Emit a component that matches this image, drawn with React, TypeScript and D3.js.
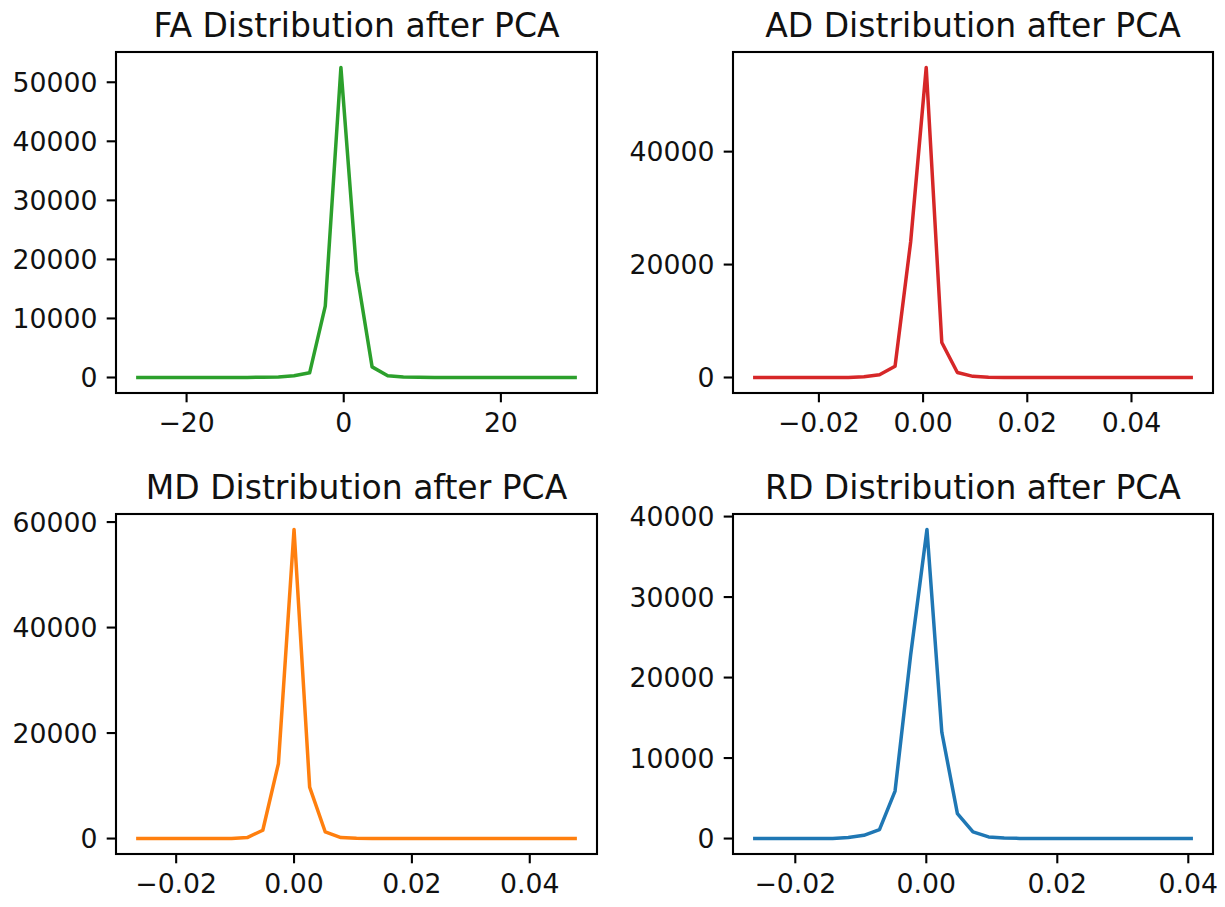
import React from "react";
import * as d3 from "d3";

// ---------- data ----------
const faX = [-26.2, -24.21, -22.23, -20.24, -18.25, -16.26, -14.28, -12.29, -10.3, -8.31, -6.33, -4.34, -2.35, -0.36, 1.63, 3.61, 5.6, 7.59, 9.58, 11.56, 13.55, 15.54, 17.53, 19.51, 21.5, 23.49, 25.48, 27.46, 29.45];
const faY = [0, 0, 0, 0, 0, 0, 10, 20, 40, 100, 300, 800, 12100, 52500, 18000, 1800, 300, 80, 30, 10, 5, 0, 0, 0, 0, 0, 0, 0, 0];

const adX = [-0.0323, -0.02931, -0.02632, -0.02333, -0.02034, -0.01735, -0.01435, -0.01136, -0.00837, -0.00538, -0.00239, 0.0006, 0.00359, 0.00658, 0.00957, 0.01256, 0.01556, 0.01855, 0.02154, 0.02453, 0.02752, 0.03051, 0.0335, 0.03649, 0.03948, 0.04248, 0.04547, 0.04846, 0.05146];
const adY = [0, 0, 0, 0, 0, 0, 10, 150, 500, 2000, 24000, 54900, 6200, 880, 200, 60, 20, 10, 0, 0, 0, 0, 0, 0, 0, 0, 0, 0, 0];

const mdX = [-0.0265, -0.02385, -0.0212, -0.01855, -0.0159, -0.01325, -0.0106, -0.00795, -0.0053, -0.00265, 0.0, 0.00265, 0.0053, 0.00795, 0.0106, 0.01325, 0.0159, 0.01855, 0.0212, 0.02385, 0.0265, 0.02915, 0.0318, 0.03445, 0.0371, 0.03975, 0.0424, 0.04505, 0.0477];
const mdY = [0, 0, 0, 0, 0, 0, 30, 190, 1570, 14200, 58600, 9750, 1250, 190, 40, 0, 0, 0, 0, 0, 0, 0, 0, 0, 0, 0, 0, 0, 0];

const rdX = [-0.02618, -0.0238, -0.02142, -0.01904, -0.01666, -0.01429, -0.01191, -0.00953, -0.00715, -0.00477, -0.00239, 0.0001, 0.00237, 0.00475, 0.00713, 0.00951, 0.01189, 0.01427, 0.01665, 0.01903, 0.0214, 0.02378, 0.02616, 0.02854, 0.03092, 0.0333, 0.03568, 0.03806, 0.04044];
const rdY = [0, 0, 0, 0, 5, 20, 120, 400, 1100, 5900, 22800, 38400, 13200, 3100, 820, 200, 60, 20, 0, 0, 0, 0, 0, 0, 0, 0, 0, 0, 0];

const faXTicks = [-20, 0, 20];
const faYTicks = [0, 10000, 20000, 30000, 40000, 50000];
const adXTicks = [-0.02, 0.0, 0.02, 0.04];
const adYTicks = [0, 20000, 40000];
const mdXTicks = [-0.02, 0.0, 0.02, 0.04];
const mdYTicks = [0, 20000, 40000, 60000];
const rdXTicks = [-0.02, 0.0, 0.02, 0.04];
const rdYTicks = [0, 10000, 20000, 30000, 40000];

const titles = ["FA Distribution after PCA", "AD Distribution after PCA", "MD Distribution after PCA", "RD Distribution after PCA"];
const colors = ["#2ca02c", "#d62728", "#ff7f0e", "#1f77b4"];

// ---------- layout ----------
const W = 1225;
const H = 907;
const FONT = "DejaVu Sans, sans-serif";
const TICK_FS = 26.7;
const TITLE_FS = 33;
const TICK_LEN = 9.3;
const PAD = 9.3;

type PanelProps = {
  x: number[];
  y: number[];
  xTicks: number[];
  yTicks: number[];
  title: string;
  color: string;
  left: number;
  top: number;
  width: number;
  height: number;
  xFmt: (v: number) => string;
};

const fmtMinus = (s: string) => s.replace("-", "\u2212");

function Panel({ x, y, xTicks, yTicks, title, color, left, top, width, height, xFmt }: PanelProps) {
  const [x0, x1] = d3.extent(x) as [number, number];
  const [y0, y1] = d3.extent(y) as [number, number];
  const dx = (x1 - x0) * 0.05;
  const dy = (y1 - y0) * 0.05;
  const xs = d3.scaleLinear().domain([x0 - dx, x1 + dx]).range([left, left + width]);
  const ys = d3.scaleLinear().domain([y0 - dy, y1 + dy]).range([top + height, top]);
  const pts = x.map((v, i) => [v, y[i]] as [number, number]);
  const line = d3
    .line<[number, number]>()
    .x((d) => xs(d[0]))
    .y((d) => ys(d[1]));
  return (
    <g>
      <rect x={left} y={top} width={width} height={height} fill="#fff" />
      <path d={line(pts) || ""} fill="none" stroke={color} strokeWidth={3.5} strokeLinejoin="round" strokeLinecap="square" />
      <rect x={left} y={top} width={width} height={height} fill="none" stroke="#000" strokeWidth={2.1} />
      {yTicks.map((t) => (
        <g key={"y" + t}>
          <line x1={left} x2={left - TICK_LEN} y1={ys(t)} y2={ys(t)} stroke="#000" strokeWidth={2.1} />
          <text x={left - TICK_LEN - PAD} y={ys(t)} dy="0.36em" textAnchor="end" fontFamily={FONT} fontSize={TICK_FS} fill="#111">
            {String(t)}
          </text>
        </g>
      ))}
      {xTicks.map((t) => (
        <g key={"x" + t}>
          <line x1={xs(t)} x2={xs(t)} y1={top + height} y2={top + height + TICK_LEN} stroke="#000" strokeWidth={2.1} />
          <text x={xs(t)} y={top + height + TICK_LEN + PAD} dy="0.76em" textAnchor="middle" fontFamily={FONT} fontSize={TICK_FS} fill="#111">
            {fmtMinus(xFmt(t))}
          </text>
        </g>
      ))}
      <text x={left + width / 2} y={top - 15} textAnchor="middle" fontFamily={FONT} fontSize={TITLE_FS} fill="#111">
        {title}
      </text>
    </g>
  );
}

export default function App() {
  const intFmt = d3.format("d");
  const decFmt = d3.format(".2f");
  return (
    <svg width={W} height={H} style={{ position: "absolute", left: 0, top: 0, background: "#fff" }}>
      <rect x={0} y={0} width={W} height={H} fill="#fff" />
      <Panel x={faX} y={faY} xTicks={faXTicks} yTicks={faYTicks} title={titles[0]} color={colors[0]} left={116} top={52} width={481} height={341} xFmt={intFmt} />
      <Panel x={adX} y={adY} xTicks={adXTicks} yTicks={adYTicks} title={titles[1]} color={colors[1]} left={733} top={52} width={480} height={341} xFmt={decFmt} />
      <Panel x={mdX} y={mdY} xTicks={mdXTicks} yTicks={mdYTicks} title={titles[2]} color={colors[2]} left={116} top={514} width={481} height={340} xFmt={decFmt} />
      <Panel x={rdX} y={rdY} xTicks={rdXTicks} yTicks={rdYTicks} title={titles[3]} color={colors[3]} left={733} top={514} width={480} height={340} xFmt={decFmt} />
    </svg>
  );
}
